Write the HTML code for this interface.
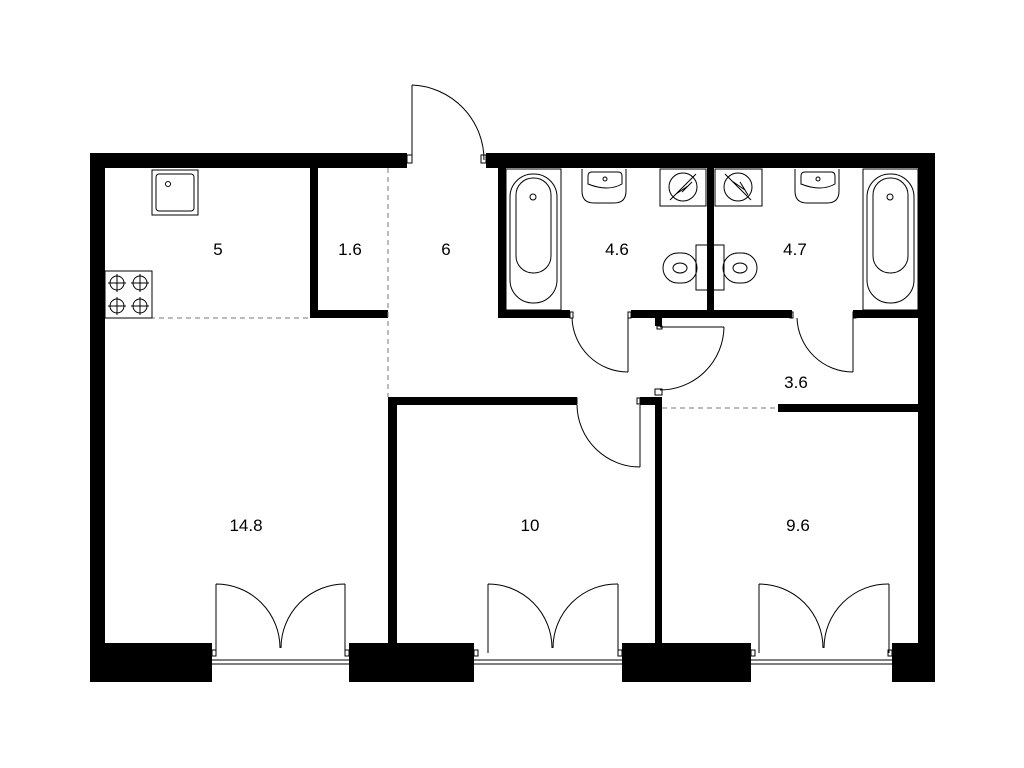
<!DOCTYPE html>
<html><head><meta charset="utf-8"><style>
html,body{margin:0;padding:0;background:#fff;}
svg{display:block}
text{font-family:"Liberation Sans",sans-serif;font-size:17px;fill:#000;text-anchor:middle}
</style></head><body>
<svg width="1024" height="768" viewBox="0 0 1024 768" xmlns="http://www.w3.org/2000/svg">
<g fill="#000">
<rect x="90" y="153" width="317" height="15"/>
<rect x="486" y="153" width="449" height="15"/>
<rect x="90" y="153" width="15" height="529"/>
<rect x="918" y="153" width="17" height="529"/>
<rect x="90" y="643" width="122" height="39"/>
<rect x="349" y="643" width="125" height="39"/>
<rect x="622" y="643" width="129" height="39"/>
<rect x="892" y="643" width="43" height="39"/>
<rect x="310" y="168" width="8" height="150"/>
<rect x="310" y="310" width="78" height="8"/>
<rect x="388" y="397" width="9" height="246"/>
<rect x="388" y="397" width="189" height="8"/>
<rect x="640" y="397" width="22" height="8"/>
<rect x="655" y="397" width="7" height="246"/>
<rect x="498" y="168" width="8" height="150"/>
<rect x="498" y="310" width="72" height="8"/>
<rect x="631" y="310" width="161" height="8"/>
<rect x="853" y="310" width="65" height="8"/>
<rect x="707" y="168" width="7" height="142"/>
<rect x="655" y="318" width="7" height="8"/>
<rect x="778" y="404" width="140" height="8"/>
</g>
<g fill="none" stroke="#000" stroke-width="1">
<line x1="105" y1="318" x2="310" y2="318" stroke="#777" stroke-dasharray="5,4"/>
<line x1="388" y1="168" x2="388" y2="397" stroke="#777" stroke-dasharray="5,4"/>
<line x1="662" y1="408" x2="778" y2="408" stroke="#777" stroke-dasharray="5,4"/>
<rect x="407" y="155" width="5" height="8"/>
<rect x="481" y="155" width="5" height="8"/>
<line x1="412" y1="85" x2="412" y2="160"/>
<path d="M412 85 A75 75 0 0 1 484 160"/>
<rect x="152" y="170" width="46" height="45"/>
<rect x="156" y="174" width="38" height="37" rx="3"/>
<circle cx="168" cy="184" r="2.5"/>
<rect x="105" y="271" width="47" height="47"/>
<circle cx="117" cy="283" r="7"/><path d="M108 283h18M117 274v18"/>
<circle cx="140" cy="283" r="7"/><path d="M131 283h18M140 274v18"/>
<circle cx="117" cy="306" r="7"/><path d="M108 306h18M117 297v18"/>
<circle cx="140" cy="306" r="7"/><path d="M131 306h18M140 297v18"/>
<rect x="506" y="169" width="55" height="141"/>
<rect x="510" y="174" width="47" height="129" rx="23"/>
<rect x="516" y="178" width="35" height="95" rx="17"/>
<circle cx="533" cy="197" r="3"/>
<path d="M582 169 v22 q0 12 12 12 h20 q12 0 12 -12 v-22"/>
<path d="M588 176 q0 -4 4 -4 h26 q4 0 4 4 v8 q-14 8 -34 0 z"/>
<circle cx="605" cy="179" r="2"/>
<rect x="660" y="169" width="46" height="37"/>
<circle cx="683" cy="187" r="14"/><path d="M670 200 L696 174 M676 194 L688 186 L682 192 L692 182"/>
<rect x="715" y="169" width="47" height="37"/>
<circle cx="738" cy="187" r="14"/><path d="M725 174 L751 200 M732 181 L745 190 L740 182 L748 195"/>
<rect x="696" y="245" width="28" height="45"/>
<rect x="663" y="253" width="34" height="30" rx="15"/>
<ellipse cx="680" cy="268" rx="7" ry="5"/>
<rect x="723" y="253" width="34" height="30" rx="15"/>
<ellipse cx="740" cy="268" rx="7" ry="5"/>
<path d="M795 169 v22 q0 12 12 12 h20 q12 0 12 -12 v-22"/>
<path d="M801 176 q0 -4 4 -4 h26 q4 0 4 4 v8 q-14 8 -34 0 z"/>
<circle cx="818" cy="179" r="2"/>
<rect x="863" y="169" width="55" height="141"/>
<rect x="867" y="174" width="47" height="129" rx="23"/>
<rect x="873" y="178" width="35" height="95" rx="17"/>
<circle cx="890" cy="197" r="3"/>
<rect x="570" y="312" width="3" height="6"/><rect x="628" y="312" width="3" height="6"/>
<line x1="628" y1="318" x2="628" y2="372"/>
<path d="M572 318 A56 56 0 0 0 628 372"/>
<rect x="790" y="312" width="3" height="6"/><rect x="853" y="312" width="3" height="6"/>
<line x1="853" y1="318" x2="853" y2="372"/>
<path d="M797 318 A56 56 0 0 0 853 372"/>
<rect x="657" y="326" width="5" height="3"/>
<line x1="660" y1="327" x2="724" y2="327"/>
<path d="M724 327 A64 64 0 0 1 660 390"/>
<rect x="655" y="389" width="7" height="6"/>
<rect x="574" y="398" width="3" height="6"/><rect x="637" y="398" width="3" height="6"/>
<line x1="640" y1="405" x2="640" y2="467"/>
<path d="M577 405 A63 63 0 0 0 640 467"/>
<g>
<line x1="212" y1="660" x2="349" y2="660"/><line x1="212" y1="664" x2="349" y2="664"/>
<line x1="474" y1="660" x2="622" y2="660"/><line x1="474" y1="664" x2="622" y2="664"/>
<line x1="751" y1="660" x2="892" y2="660"/><line x1="751" y1="664" x2="892" y2="664"/>
<rect x="212" y="650" width="4" height="6"/><rect x="345" y="650" width="4" height="6"/>
<rect x="474" y="650" width="4" height="6"/><rect x="618" y="650" width="4" height="6"/>
<rect x="751" y="650" width="4" height="6"/><rect x="888" y="650" width="4" height="6"/>
<path d="M216 653V584M345 653V584M216 584A64 64 0 0 1 280 648M345 584A64 64 0 0 0 281 648"/>
<path d="M488 653V584M618 653V584M488 584A64 64 0 0 1 552 648M618 584A64 64 0 0 0 553 648"/>
<path d="M759 653V584M889 653V584M759 584A64 64 0 0 1 823 648M889 584A64 64 0 0 0 824 648"/>
</g>
</g>
<text x="218" y="255">5</text>
<text x="350" y="255">1.6</text>
<text x="446" y="255">6</text>
<text x="617" y="255">4.6</text>
<text x="795" y="255">4.7</text>
<text x="796" y="388">3.6</text>
<text x="246" y="531">14.8</text>
<text x="530" y="531">10</text>
<text x="798" y="531">9.6</text>
</svg>
</body></html>
